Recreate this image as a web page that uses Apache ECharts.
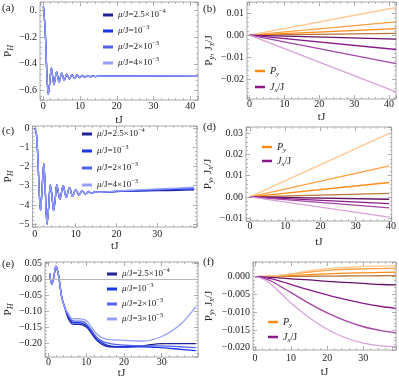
<!DOCTYPE html>
<html>
<head>
<meta charset="utf-8">
<script src="https://cdn.jsdelivr.net/npm/echarts@6/dist/echarts.min.js"></script>
<style>
html, body { margin: 0; padding: 0; background: #fff; }
#chart { width: 399px; height: 385px; }
</style>
</head>
<body>
<div id="chart"></div>
<script>
// (a) P_H, all four mu curves overlap
var tA = [0, 0.5, 1.0, 1.35, 1.7, 2.2, 2.9, 3.6, 4.3, 5.0, 5.7, 6.4, 7.1, 7.8, 8.5, 9.2, 9.9, 10.6, 11.3, 12.0, 12.7, 13.4, 14.1, 15, 20, 30, 42];
var pA = [0.03, -0.15, -0.5, -0.627, -0.55, -0.43, -0.555, -0.46, -0.535, -0.47, -0.522, -0.476, -0.513, -0.48, -0.508, -0.483, -0.503, -0.486, -0.5, -0.488, -0.497, -0.489, -0.495, -0.491, -0.492, -0.49, -0.488];

// (b) P_y and J_x/J, straight lines
var tB = [0, 42];
var bP1 = [0, 0.0008], bP2 = [0, 0.003], bP3 = [0, 0.0061], bP4 = [0, 0.0126];
var bJ1 = [0, -0.0018], bJ2 = [0, -0.0065], bJ3 = [0, -0.0129], bJ4 = [0, -0.0258];

// (c) P_H, common start then slightly split tails
var tCHead = [0, 0.4, 0.8, 1.1, 1.4, 1.75, 2.2, 2.6, 3.0, 3.4, 3.8, 4.2, 4.6, 5.0, 5.4, 6.15, 6.95, 7.7, 8.5, 9.25, 10.0, 10.8, 11.6, 12.4, 13.1, 13.9, 14.7, 16];
var pCHead = [0, -0.3, -1.8, -3.4, -4.3, -3.3, -1.85, -3.4, -5.0, -4.1, -2.95, -3.5, -4.3, -3.7, -2.95, -3.7, -3.0, -3.6, -3.1, -3.55, -3.2, -3.48, -3.27, -3.43, -3.3, -3.4, -3.32, -3.34];
var tCTail = [20, 25, 30, 35, 39];
var pC1 = [-3.3, -3.28, -3.26, -3.24, -3.22];
var pC2 = [-3.29, -3.26, -3.22, -3.19, -3.16];
var pC3 = [-3.28, -3.24, -3.2, -3.15, -3.12];
var pC4 = [-3.27, -3.22, -3.17, -3.12, -3.08];

// (d) straight lines
var tD = [0, 39.5];
var dP1 = [0, 0.0017], dP2 = [0, 0.0068], dP3 = [0, 0.0147], dP4 = [0, 0.030];
var dJ1 = [0, -0.0011], dJ2 = [0, -0.0032], dJ3 = [0, -0.0052], dJ4 = [0, -0.0095];

// (e) P_H
var tE = [0.3, 0.9, 1.45, 2.0, 2.6, 3.0, 3.5, 4.4, 5.2, 6.2, 7.0, 8.0, 9.0, 10.2, 11.5, 12.8, 14.6, 16.3, 20, 25, 30, 35, 39];
var pEHead = [0.019, -0.015, 0.01, 0.042, 0.018, -0.0125, -0.054, -0.09];
var pE1 = [-0.12, -0.138, -0.14, -0.14, -0.142, -0.15, -0.17, -0.19, -0.205, -0.21, -0.211, -0.207, -0.2, -0.2, -0.2];
var pE2 = [-0.116, -0.133, -0.135, -0.135, -0.137, -0.145, -0.165, -0.186, -0.2, -0.207, -0.21, -0.21, -0.213, -0.218, -0.222];
var pE3 = [-0.111, -0.128, -0.13, -0.13, -0.131, -0.14, -0.16, -0.18, -0.195, -0.2, -0.205, -0.207, -0.207, -0.21, -0.213];
var pE4 = [-0.105, -0.122, -0.123, -0.122, -0.124, -0.13, -0.15, -0.17, -0.184, -0.188, -0.19, -0.192, -0.178, -0.14, -0.085];

// (f)
var tF = [0, 2.5, 5, 7.5, 10, 15, 20, 25, 30, 35, 39];
var fP1 = [0, 0, 0.00003, 0.00006, 0.0001, 0.00013, 0.00017, 0.0002, 0.00023, 0.00026, 0.0003];
var fP2 = [0, 0, 0.0001, 0.0002, 0.0003, 0.0006, 0.0008, 0.001, 0.0011, 0.0012, 0.0013];
var fP3 = [0, 0.0001, 0.0002, 0.0004, 0.0007, 0.0013, 0.0018, 0.0021, 0.0022, 0.0023, 0.0024];
var fP4 = [0, 0.0001, 0.0002, 0.0005, 0.0008, 0.0017, 0.0023, 0.0026, 0.0029, 0.003, 0.0031];
var fJ1 = [0, -0.0001, -0.0002, -0.0004, -0.0006, -0.0009, -0.0013, -0.0016, -0.0019, -0.0022, -0.0023];
var fJ2 = [0, -0.0002, -0.0007, -0.0014, -0.0022, -0.0037, -0.0051, -0.0064, -0.0075, -0.0084, -0.0089];
var fJ3 = [0, -0.0005, -0.0015, -0.003, -0.0045, -0.0075, -0.0102, -0.0124, -0.0141, -0.0152, -0.0158];
var fJ4 = [0, -0.0008, -0.0026, -0.005, -0.0075, -0.0115, -0.0148, -0.0172, -0.0187, -0.0195, -0.0197];

var blues = ['#1f2199', '#1a35e6', '#5262f0', '#959ff6'];
var oranges = ['#b8763a', '#ff8a14', '#ffa040', '#ffc890'];
var purples = ['#661466', '#8a1a8a', '#a646a6', '#d8a2d8'];
var FONT = 'Liberation Serif';

var legendText = {
  m1: '{i|μ}/J=2.5×10{s|−4}',
  m2: '{i|μ}/J=10{s|−3}',
  m3: '{i|μ}/J=2×10{s|−3}',
  m4: '{i|μ}/J=4×10{s|−3}',
  m4e: '{i|μ}/J=3×10{s|−3}',
  Py: '{i|P}{b|y}',
  Jx: '{i|J}{b|x}/J'
};

function pairs(t, v) {
  return t.map(function (x, i) { return [x, v[i]]; });
}

function fmt(step, dec, zeroText) {
  return function (v) {
    if (Math.abs(v / step - Math.round(v / step)) > 1e-6) return '';
    if (Math.abs(v) < 1e-12) return zeroText || (0).toFixed(dec);
    return v.toFixed(dec).replace('-', '−');
  };
}

// panel layout
var panels = [
  { grid: { left: 39, top: 2, width: 159, height: 98 }, x: [-0.9, 42.1], y: [-0.669, 0.0595], ySplit: 4, yStep: 0.2, yDec: 1, zero: '0.',
    yName: '{t|P}{s|H}', yGap: 23, xGap: 15, xMargin: 1 },
  { grid: { left: 247, top: 2, width: 150, height: 97 }, x: [-0.75, 42.0], y: [-0.029, 0.0151], ySplit: 5, yStep: 0.01, yDec: 2,
    yName: '{t|P}{s|y}{t|, J}{s|x}{t|/J}', yGap: 31, xGap: 13, xMargin: 0 },
  { grid: { left: 31, top: 126, width: 166, height: 101 }, x: [-0.55, 39.7], y: [-5.155, 0.12], ySplit: 5, yStep: 1, yDec: 0,
    yName: '{t|P}{s|H}', yGap: 16, xGap: 14, xMargin: 2 },
  { grid: { left: 246, top: 127, width: 152, height: 94 }, x: [-1.1, 40.2], y: [-0.01136, 0.033], ySplit: 5, yStep: 0.01, yDec: 2,
    yName: '{t|P}{s|y}{t|, J}{s|x}{t|/J}', yGap: 31, xGap: 16, xMargin: 0 },
  { grid: { left: 45, top: 262, width: 153, height: 95 }, x: [-0.9, 39.6], y: [-0.242, 0.0547], ySplit: 5, yStep: 0.05, yDec: 2,
    yName: '{t|P}{s|H}', yGap: 28, xGap: 7, xMargin: 0 },
  { grid: { left: 253, top: 262, width: 143, height: 88 }, x: [-0.55, 39.05], y: [-0.02065, 0.00414], ySplit: 5, yStep: 0.005, yDec: 3,
    yName: '{t|P}{s|y}{t|, J}{s|x}{t|/J}', yGap: 37, xGap: 17, xMargin: 3 }
];

var tickStyle = { show: true, inside: true, length: 4, lineStyle: { color: '#999', width: 0.8 } };
var minorStyle = { show: true, splitNumber: 5, length: 2, lineStyle: { color: '#aaa', width: 0.8 } };
var noLine = { show: false, onZero: false };
var nameStyle = {
  fontFamily: FONT, fontSize: 11, color: '#222', lineHeight: 14,
  rich: {
    t: { fontFamily: FONT, fontSize: 11, color: '#222', lineHeight: 14 },
    s: { fontFamily: FONT, fontSize: 8, fontStyle: 'italic', color: '#222', lineHeight: 8, verticalAlign: 'bottom' }
  }
};

var grids = [], xAxes = [], yAxes = [], titles = [];
panels.forEach(function (p, i) {
  grids.push(Object.assign({ show: true, borderColor: '#aaa', borderWidth: 1 }, p.grid));
});
panels.forEach(function (p, i) {
  xAxes.push({
    type: 'value', gridIndex: i, position: 'bottom', min: p.x[0], max: p.x[1], splitNumber: 5,
    name: 'tJ', nameLocation: 'middle', nameGap: p.xGap, nameTextStyle: { fontFamily: FONT, fontSize: 11, color: '#222' },
    axisLine: noLine, axisTick: tickStyle, minorTick: minorStyle, splitLine: { show: false },
    axisLabel: { fontFamily: FONT, fontSize: 10, color: '#222', margin: p.xMargin, formatter: fmt(10, 0) }
  });
});
panels.forEach(function (p, i) {
  xAxes.push({
    type: 'value', gridIndex: i, position: 'top', min: p.x[0], max: p.x[1], splitNumber: 5,
    axisLine: noLine, axisTick: tickStyle, minorTick: minorStyle, splitLine: { show: false },
    axisLabel: { show: false }
  });
});
panels.forEach(function (p, i) {
  yAxes.push({
    type: 'value', gridIndex: i, position: 'left', min: p.y[0], max: p.y[1], splitNumber: p.ySplit,
    name: p.yName, nameLocation: 'middle', nameRotate: 90, nameGap: p.yGap, nameTextStyle: nameStyle,
    axisLine: noLine, axisTick: tickStyle, minorTick: minorStyle, splitLine: { show: false },
    axisLabel: { fontFamily: FONT, fontSize: 10, color: '#222', margin: 3, formatter: fmt(p.yStep, p.yDec, p.zero) }
  });
});
panels.forEach(function (p, i) {
  yAxes.push({
    type: 'value', gridIndex: i, position: 'right', min: p.y[0], max: p.y[1], splitNumber: p.ySplit,
    axisLine: noLine, axisTick: tickStyle, minorTick: minorStyle, splitLine: { show: false },
    axisLabel: { show: false }
  });
});

var labelPos = [[2, 3], [203, 4], [2, 126], [203, 122], [2, 259], [203, 257]];
['(a)', '(b)', '(c)', '(d)', '(e)', '(f)'].forEach(function (s, i) {
  titles.push({ text: s, left: labelPos[i][0], top: labelPos[i][1], padding: 0,
    textStyle: { fontFamily: FONT, fontSize: 11, fontWeight: 'normal', color: '#222' } });
});

function line(panel, name, t, v, color) {
  return {
    type: 'line', name: name, xAxisIndex: panel, yAxisIndex: panel,
    data: pairs(t, v), showSymbol: false, symbol: 'none', smooth: 0.35,
    lineStyle: { color: color, width: 1.3 }, itemStyle: { color: color },
    animation: false, silent: true
  };
}

var series = [];
// (a)
['m1', 'm2', 'm3', 'm4'].forEach(function (n, k) { series.push(line(0, n, tA, pA, blues[k])); });
// (b)
[bP1, bP2, bP3, bP4].forEach(function (v, k) { series.push(line(1, 'Py', tB, v, oranges[k])); });
[bJ1, bJ2, bJ3, bJ4].forEach(function (v, k) { series.push(line(1, 'Jx', tB, v, purples[k])); });
// (c)
var tC = tCHead.concat(tCTail);
[pC1, pC2, pC3, pC4].forEach(function (tail, k) {
  series.push(line(2, ['m1', 'm2', 'm3', 'm4'][k], tC, pCHead.concat(tail), blues[k]));
});
// (d)
[dP1, dP2, dP3, dP4].forEach(function (v, k) { series.push(line(3, 'Py', tD, v, oranges[k])); });
[dJ1, dJ2, dJ3, dJ4].forEach(function (v, k) { series.push(line(3, 'Jx', tD, v, purples[k])); });
// (e)
[pE1, pE2, pE3, pE4].forEach(function (tail, k) {
  var s = line(4, ['m1', 'm2', 'm3', 'm4e'][k], tE, pEHead.concat(tail), blues[k]);
  if (k === 0) {
    s.markLine = { silent: true, symbol: 'none', label: { show: false }, animation: false,
      lineStyle: { color: '#b5b5b5', type: 'solid', width: 1 }, data: [{ yAxis: 0 }] };
  }
  series.push(s);
});
// (f)
[fP1, fP2, fP3, fP4].forEach(function (v, k) { series.push(line(5, 'Py', tF, v, oranges[k])); });
[fJ1, fJ2, fJ3, fJ4].forEach(function (v, k) { series.push(line(5, 'Jx', tF, v, purples[k])); });

var legendRich = {
  i: { fontFamily: FONT, fontStyle: 'italic', fontSize: 9, color: '#222', lineHeight: 14 },
  s: { fontFamily: FONT, fontSize: 6.5, color: '#222', lineHeight: 7, verticalAlign: 'top' },
  b: { fontFamily: FONT, fontStyle: 'italic', fontSize: 7, color: '#222', lineHeight: 8, verticalAlign: 'bottom' }
};
function muLegend(left, top, gap, names) {
  return {
    orient: 'vertical', left: left, top: top, itemGap: gap, itemWidth: 10, itemHeight: 3, icon: 'rect',
    selectedMode: false, padding: 0,
    data: names.map(function (n, k) { return { name: n, itemStyle: { color: blues[k] } }; }),
    formatter: function (n) { return legendText[n]; },
    textStyle: { fontFamily: FONT, fontSize: 9, color: '#222', lineHeight: 14, rich: legendRich }
  };
}
function pjLegend(left, top, gap) {
  return {
    orient: 'vertical', left: left, top: top, itemGap: gap, itemWidth: 10, itemHeight: 2.5, icon: 'rect',
    selectedMode: false, padding: 0,
    data: [{ name: 'Py', itemStyle: { color: '#ff8c1a' } }, { name: 'Jx', itemStyle: { color: '#8b1a8b' } }],
    formatter: function (n) { return legendText[n]; },
    textStyle: { fontFamily: FONT, fontSize: 10, color: '#222', lineHeight: 14,
      rich: { i: { fontFamily: FONT, fontStyle: 'italic', fontSize: 10, color: '#222', lineHeight: 14 }, b: legendRich.b } }
  };
}

var chart = echarts.init(document.getElementById('chart'), null, { renderer: 'canvas' });
chart.setOption({
  backgroundColor: '#fff',
  animation: false,
  title: titles,
  grid: grids,
  xAxis: xAxes,
  yAxis: yAxes,
  legend: [
    muLegend(103, 8, 2, ['m1', 'm2', 'm3', 'm4']),
    muLegend(82, 127, 3, ['m1', 'm2', 'm3', 'm4']),
    muLegend(107, 267, 1, ['m1', 'm2', 'm3', 'm4e']),
    pjLegend(255, 64, 2),
    pjLegend(262, 140, 0),
    pjLegend(268, 315, 1)
  ],
  series: series
});
</script>
</body>
</html>
